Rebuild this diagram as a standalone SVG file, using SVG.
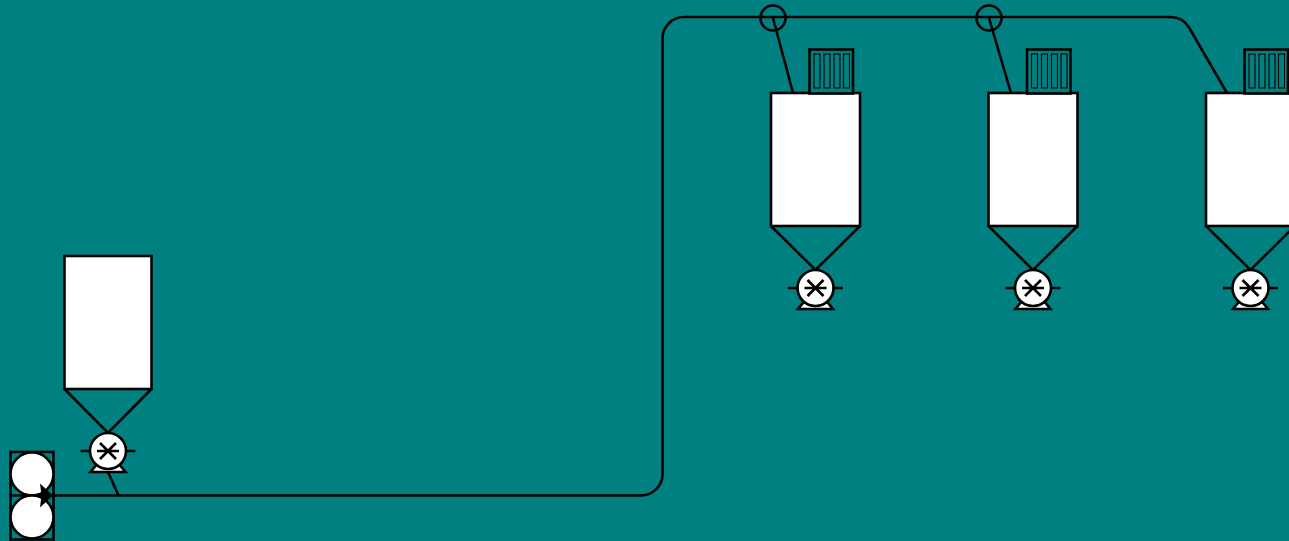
<svg xmlns="http://www.w3.org/2000/svg" width="1289" height="541" viewBox="0 0 1289 541">
<style>
.s{stroke:#000;stroke-width:2.600;fill:none}
.w{stroke:#000;stroke-width:2.600;fill:#fff}
.t{stroke:#000;stroke-width:1.100;fill:none}
</style>
<defs>
<marker id="arrow" markerUnits="userSpaceOnUse" markerWidth="16" markerHeight="28" refX="14" refY="14" orient="auto">
<path d="M1,2 L14,14 L1,26 L2.500,14 Z" fill="#000"/>
</marker>
<g id="pump">
<path class="w" d="M-17.500,216 L17.500,216 L0,195 Z"/>
<path class="s" d="M-27.500,195 H27.500"/>
<circle class="w" cx="0" cy="195" r="18"/>
<path class="s" d="M-11,195 H11 M-8,187 L8,203 M8,187 L-8,203"/>
</g>
<g id="silo">
<rect class="w" x="-44.500" y="0" width="89" height="133"/>
<path class="s" d="M-44.500,133 L0,177 L44.500,133"/>
<use href="#pump"/>
</g>
<g id="silo-narrow">
<rect class="w" x="-43.500" y="0" width="87" height="133"/>
<path class="s" d="M-43.500,133 L0,177 L43.500,133"/>
<use href="#pump"/>
</g>
<g id="filter">
<rect x="0" y="0" width="43.500" height="44" fill="#008080" stroke="#000" stroke-width="2.600"/>
<rect class="t" x="4.500" y="4.500" width="6" height="34"/>
<rect class="t" x="14.500" y="4.500" width="6" height="34"/>
<rect class="t" x="24.500" y="4.500" width="6" height="34"/>
<rect class="t" x="34" y="4.500" width="6" height="34"/>
</g>
</defs>
<rect width="1289" height="541" fill="#008080"/>
<g id="tank-left"><use href="#silo-narrow" transform="translate(108,256)"/></g>
<g id="tank-1"><use href="#silo" transform="translate(815.500,93)"/><use href="#filter" transform="translate(809.500,49.500)"/></g>
<g id="tank-2"><use href="#silo" transform="translate(1033,93)"/><use href="#filter" transform="translate(1027,49.500)"/></g>
<g id="tank-3"><use href="#silo" transform="translate(1250.500,93)"/><use href="#filter" transform="translate(1244.500,49.500)"/></g>
<g id="feeder">
<rect class="s" x="10.500" y="452" width="43" height="87.500"/>
<path class="s" d="M10.500,495.500 H53.500"/>
<circle class="w" cx="32" cy="474" r="21.500"/>
<circle class="w" cx="32" cy="517" r="21.500"/>
</g>
<g id="connectors">
<path class="s" marker-start="url(#arrow)" d="M53,495.500 H641 A21.500,21.500 0 0 0 662.500,474 V38.500 A21.500,21.500 0 0 1 684,17 H1170.300 A22,22 0 0 1 1189.300,28 L1227,93"/>
<path class="s" d="M108,472 L118.500,495.500"/>
<path class="s" d="M773,18 L793,93"/>
<path class="s" d="M989,18 L1011,93"/>
</g>
<g id="valve-1"><circle class="s" cx="773" cy="18" r="12.500"/></g>
<g id="valve-2"><circle class="s" cx="989" cy="18" r="12.500"/></g>
</svg>
